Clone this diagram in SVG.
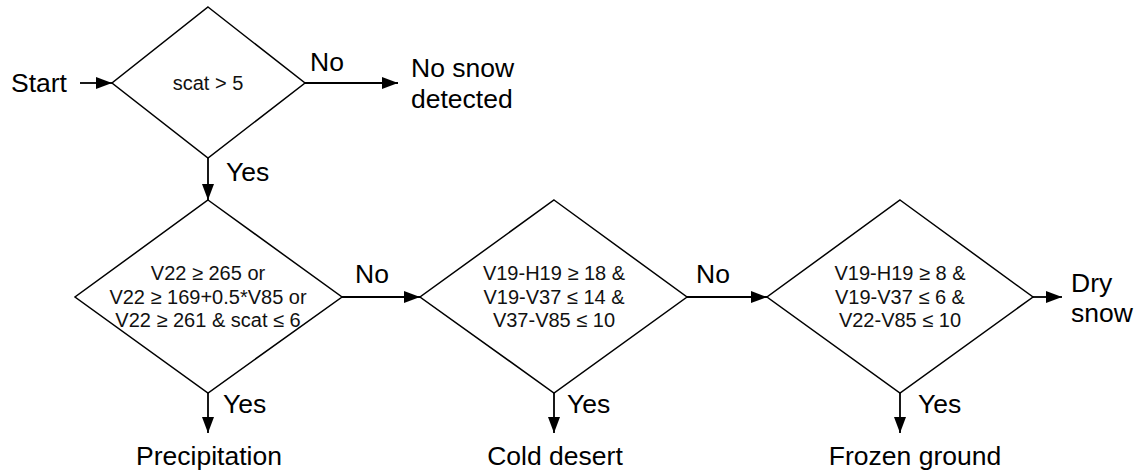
<svg xmlns="http://www.w3.org/2000/svg" width="1141" height="474" viewBox="0 0 1141 474">
<defs>
<marker id="ah" viewBox="0 0 16 12" refX="16" refY="6" markerWidth="16" markerHeight="12" markerUnits="userSpaceOnUse" orient="auto">
<path d="M0,0 L16,6 L0,12 Z" fill="#000"/>
</marker>
<style>
.d{fill:#fff;stroke:#000;stroke-width:1.5}
.c{stroke:#000;stroke-width:1.8;fill:none;marker-end:url(#ah)}
.t{font-family:"Liberation Sans",Arial,sans-serif;font-size:20px;fill:#111;text-anchor:middle}
.l{font-family:"Liberation Sans",Arial,sans-serif;font-size:26.5px;fill:#000}
</style>
</defs>
<rect width="1141" height="474" fill="#fff"/>
<g id="d1">
<polygon class="d" points="208,7 305,83 208,158 112,83"/>
<text class="t" x="208" y="90">scat &gt; 5</text>
</g>
<g id="d2">
<polygon class="d" points="208,200 342,297 208,393 75,297"/>
<text class="t" x="208" y="280">V22 ≥ 265 or</text>
<text class="t" x="208" y="303.5">V22 ≥ 169+0.5*V85 or</text>
<text class="t" x="208" y="327">V22 ≥ 261 &amp; scat ≤ 6</text>
</g>
<g id="d3">
<polygon class="d" points="554,200 687,297 554,393 420,297"/>
<text class="t" x="554" y="280">V19-H19 ≥ 18 &amp;</text>
<text class="t" x="554" y="303.5">V19-V37 ≤ 14 &amp;</text>
<text class="t" x="554" y="327">V37-V85 ≤ 10</text>
</g>
<g id="d4">
<polygon class="d" points="900,200 1033,297 900,393 767,297"/>
<text class="t" x="900" y="280">V19-H19 ≥ 8 &amp;</text>
<text class="t" x="900" y="303.5">V19-V37 ≤ 6 &amp;</text>
<text class="t" x="900" y="327">V22-V85 ≤ 10</text>
</g>
<g id="start"><text class="l" x="11" y="92">Start</text></g>
<g id="nosnow"><text class="l" x="411" y="77">No snow</text><text class="l" x="411" y="108">detected</text></g>
<g id="dry"><text class="l" x="1071" y="292">Dry</text><text class="l" x="1071" y="322">snow</text></g>
<g id="precip"><text class="l" x="209" y="465" text-anchor="middle">Precipitation</text></g>
<g id="cold"><text class="l" x="555" y="465" text-anchor="middle">Cold desert</text></g>
<g id="frozen"><text class="l" x="915" y="465" text-anchor="middle">Frozen ground</text></g>
<g id="connectors">
<line class="c" x1="80" y1="83" x2="112" y2="83"/>
<line class="c" x1="305" y1="83" x2="398" y2="83"/>
<line class="c" x1="208" y1="158" x2="208" y2="200"/>
<line class="c" x1="342" y1="297" x2="420" y2="297"/>
<line class="c" x1="208" y1="393" x2="208" y2="433"/>
<line class="c" x1="687" y1="297" x2="767" y2="297"/>
<line class="c" x1="554" y1="393" x2="554" y2="433"/>
<line class="c" x1="1033" y1="297" x2="1062" y2="297"/>
<line class="c" x1="900" y1="393" x2="900" y2="433"/>
<text class="l" x="310" y="71">No</text>
<text class="l" x="226" y="181">Yes</text>
<text class="l" x="355" y="283">No</text>
<text class="l" x="696" y="283">No</text>
<text class="l" x="223" y="413">Yes</text>
<text class="l" x="567" y="413">Yes</text>
<text class="l" x="918" y="413">Yes</text>
</g>
</svg>
